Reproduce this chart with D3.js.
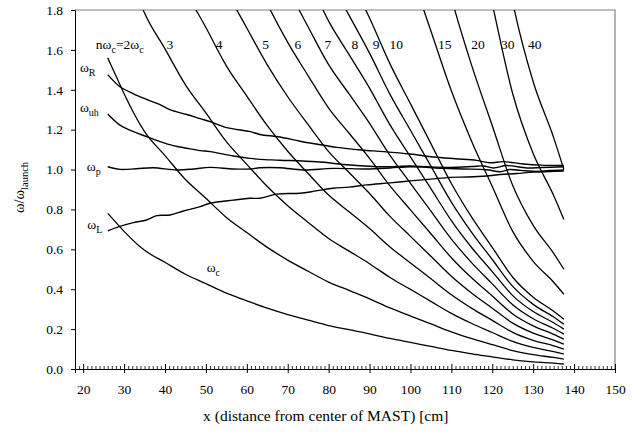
<!DOCTYPE html>
<html>
<head>
<meta charset="utf-8">
<script src="https://cdn.jsdelivr.net/npm/d3@7"></script>
<style>
  body { margin: 0; background: #fff; }
  text { font-family: "Liberation Serif", "Times New Roman", serif; fill: #000; }
</style>
</head>
<body>
<div id="chart"></div>
<script>
// electron cyclotron frequency, w_c / w_launch
var wcX = [26, 28, 30, 35, 40, 45, 50, 55, 60, 65, 70, 75, 80, 85, 90, 95, 100, 105, 110, 115, 120, 125, 130, 135, 137.5];
var wcY = [0.78, 0.735, 0.69, 0.595, 0.535, 0.475, 0.428, 0.38, 0.342, 0.305, 0.273, 0.245, 0.218, 0.197, 0.176, 0.153, 0.133, 0.113, 0.093, 0.076, 0.061, 0.046, 0.036, 0.029, 0.025];

// harmonic numbers n of the n*w_c curves
var harmonics = [1, 2, 3, 4, 5, 6, 7, 8, 9, 10, 15, 20, 30, 40];
var harmonicLabels = ["3", "4", "5", "6", "7", "8", "9", "10", "15", "20", "30", "40"];
var harmonicLabelX = [41.2, 53.2, 64.6, 72.5, 79.8, 86.4, 91.6, 96.5, 108.4, 116.5, 123.8, 130.4];

// R cut-off
var wrX = [26, 29, 32.3, 35.5, 38.8, 41.2, 45.3, 48.6, 51, 55.1, 60.8, 63.2, 68.1, 73, 77, 82, 88, 93.4, 99.9, 105.6, 111, 116.2, 119.4, 122.7, 127.6, 132, 137.5];
var wrY = [1.476, 1.415, 1.38, 1.352, 1.325, 1.3, 1.276, 1.255, 1.24, 1.21, 1.19, 1.176, 1.163, 1.142, 1.128, 1.111, 1.098, 1.09, 1.078, 1.063, 1.054, 1.046, 1.034, 1.04, 1.028, 1.022, 1.02];

// upper hybrid
var wuhX = [26, 29, 32.3, 35.5, 38.8, 42, 45.3, 48.6, 51, 56.7, 60.8, 63.2, 68.1, 77.1, 85.2, 93.4, 99.9, 104, 109.7, 115, 117.8, 120.3, 123.5, 128.4, 132, 137.5];
var wuhY = [1.279, 1.223, 1.19, 1.165, 1.14, 1.12, 1.107, 1.095, 1.09, 1.068, 1.056, 1.051, 1.047, 1.039, 1.023, 1.014, 1.018, 1.014, 1.011, 1.015, 1.018, 1.008, 1.02, 1.008, 1.01, 1.014];

// plasma frequency
var wpX = [26, 29, 33, 37.1, 42.9, 47, 51, 56.7, 60.8, 63.2, 68.1, 73.8, 81.1, 89.3, 95, 99.9, 103, 108, 113, 118.6, 121.9, 124.3, 127, 130.9, 134, 137.5];
var wpY = [1.014, 1.001, 1.004, 1.009, 0.998, 1.003, 1.011, 1.003, 1.003, 1.009, 1.009, 0.998, 1.006, 1.003, 1.008, 1.014, 1.012, 1.006, 1.003, 0.999, 0.989, 1.0, 0.996, 0.991, 0.995, 0.998];

// L cut-off
var wlX = [26, 28.6, 32.3, 35.5, 38, 41.2, 44.5, 48.6, 51, 56.7, 60.8, 63.2, 67.3, 73, 77, 81.1, 85, 89.3, 95, 99.9, 105, 109.7, 114, 118.6, 122, 126, 130, 134, 137.5];
var wlY = [0.693, 0.713, 0.734, 0.747, 0.769, 0.772, 0.792, 0.814, 0.831, 0.847, 0.856, 0.856, 0.877, 0.881, 0.893, 0.906, 0.912, 0.923, 0.933, 0.943, 0.952, 0.961, 0.963, 0.968, 0.975, 0.98, 0.987, 0.99, 0.993];

var xTicks = d3.range(20, 151, 10);
var yTicks = [0, 0.2, 0.4, 0.6, 0.8, 1.0, 1.2, 1.4, 1.6, 1.8];

var margin = {top: 10, right: 17, bottom: 63, left: 75};
var width = 632 - margin.left - margin.right;
var height = 432 - margin.top - margin.bottom;

var svg = d3.select("#chart")
  .append("svg")
    .attr("width", 632)
    .attr("height", 432)
  .append("g")
    .attr("transform", "translate(" + margin.left + "," + margin.top + ")");

var x = d3.scaleLinear().domain([18, 150]).range([0, width]);
var y = d3.scaleLinear().domain([0, 1.8]).range([height, 0]);

svg.append("clipPath").attr("id", "plotclip")
  .append("rect").attr("width", width).attr("height", height);

// frame (top and right)
svg.append("path")
  .attr("d", "M0,0H" + width + "V" + height)
  .attr("fill", "none")
  .attr("stroke", "#808080")
  .attr("stroke-width", 1.2);

// minor x ticks (inside)
var minor = d3.range(18, 151, 1).filter(function(d) { return d % 10 !== 0; });
svg.append("g")
  .attr("transform", "translate(0," + height + ")")
  .call(d3.axisBottom(x).tickValues(minor).tickSize(-3).tickFormat(""))
  .call(function(g) { g.select(".domain").remove(); })
  .selectAll("line").attr("stroke-width", 0.8);

// x axis
var xAxis = svg.append("g")
  .attr("transform", "translate(0," + height + ")")
  .call(d3.axisBottom(x).tickValues(xTicks).tickSizeOuter(0).tickSize(4).tickPadding(11));
xAxis.selectAll(".tick line").attr("y1", -5).attr("y2", 4);
xAxis.selectAll("text").style("font-size", "13.5px")
  .style("font-family", "'Liberation Serif', serif");

// y axis
var yAxis = svg.append("g")
  .call(d3.axisLeft(y).tickValues(yTicks).tickSizeOuter(0).tickSize(4).tickPadding(8)
    .tickFormat(d3.format(".1f")));
yAxis.selectAll("text").style("font-size", "13.5px")
  .style("font-family", "'Liberation Serif', serif");

var plot = svg.append("g").attr("clip-path", "url(#plotclip)");

// cyclotron harmonics n*w_c
var harmLine = d3.line()
  .x(function(d) { return x(d[0]); })
  .y(function(d) { return y(d[1]); })
  .curve(d3.curveMonotoneX);

harmonics.forEach(function(n) {
  var pts = wcX.map(function(v, i) { return [v, n * wcY[i]]; });
  plot.append("path")
    .datum(pts)
    .attr("d", harmLine)
    .attr("fill", "none")
    .attr("stroke", "#000")
    .attr("stroke-width", 1.3);
});

// wavy cut-off / resonance curves
var waveLine = d3.line()
  .x(function(d) { return x(d[0]); })
  .y(function(d) { return y(d[1]); })
  .curve(d3.curveCatmullRom.alpha(0.5));

[[wrX, wrY], [wuhX, wuhY], [wpX, wpY], [wlX, wlY]].forEach(function(s) {
  var pts = s[0].map(function(v, i) { return [v, s[1][i]]; });
  plot.append("path")
    .datum(pts)
    .attr("d", waveLine)
    .attr("fill", "none")
    .attr("stroke", "#000")
    .attr("stroke-width", 1.4);
});

// harmonic labels
harmonicLabels.forEach(function(t, i) {
  svg.append("text")
    .attr("x", x(harmonicLabelX[i]))
    .attr("y", y(1.605))
    .attr("text-anchor", "middle")
    .style("font-size", "13.5px")
    .text(t);
});

function subLabel(xv, yv, main, sub, subAfter) {
  var t = svg.append("text")
    .attr("x", x(xv))
    .attr("y", y(yv))
    .style("font-size", "13.5px");
  t.append("tspan").text(main);
  t.append("tspan").attr("dy", 4).style("font-size", "10px").text(sub);
  if (subAfter) {
    t.append("tspan").attr("dy", -4).text(subAfter[0]);
    t.append("tspan").attr("dy", 4).style("font-size", "10px").text(subAfter[1]);
  }
  return t;
}

subLabel(23.1, 1.605, "nω", "c", ["=2ω", "c"]);
subLabel(19.2, 1.489, "ω", "R");
subLabel(19.2, 1.289, "ω", "uh");
subLabel(20.9, 0.994, "ω", "p");
subLabel(21.0, 0.702, "ω", "L");
subLabel(50.2, 0.488, "ω", "c");

// axis titles
svg.append("text")
  .attr("x", x(79.3))
  .attr("y", height + 52)
  .attr("text-anchor", "middle")
  .style("font-size", "15.5px")
  .text("x (distance from center of MAST) [cm]");

var yt = svg.append("text")
  .attr("transform", "translate(" + (-51) + "," + (height / 2 - 2) + ") rotate(-90)")
  .attr("text-anchor", "middle")
  .style("font-size", "14.5px");
yt.append("tspan").text("ω/ω");
yt.append("tspan").attr("dy", 4).style("font-size", "10.5px").text("launch");
</script>
</body>
</html>
